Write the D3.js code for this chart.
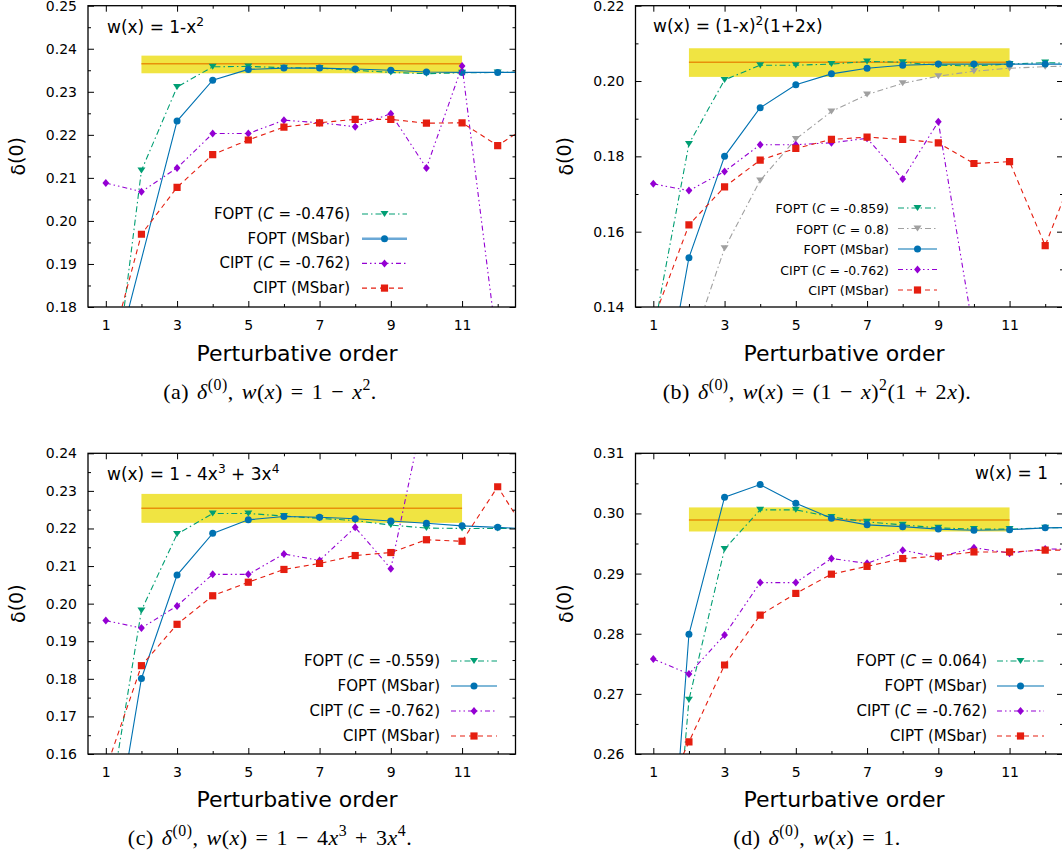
<!DOCTYPE html>
<html><head><meta charset="utf-8">
<script src="https://cdn.jsdelivr.net/npm/d3@7"></script>
<style>body{margin:0;background:#fff;} text{font-family:"DejaVu Sans",sans-serif;fill:#000;}</style>
</head><body><script>
// ---------- data ----------
const orders = [1,2,3,4,5,6,7,8,9,10,11,12,13];
const xTickLabels = [1,3,5,7,9,11];

// (a) w(x) = 1 - x^2
const aFoptC  = [0.146, 0.2117, 0.2311, 0.2358, 0.2359, 0.2356, 0.2355, 0.2350, 0.2345, 0.2342, 0.2344, 0.2345, 0.2345];
const aFoptMS = [0.159, null,   0.2232, 0.2327, 0.2352, 0.2355, 0.2355, 0.2353, 0.2350, 0.2346, 0.2345, 0.2345, 0.2345];
const aCiptC  = [0.2088, 0.2068, 0.2123, 0.2203, 0.2203, 0.2234, 0.2228, 0.2219, 0.2249, 0.2123, 0.2360, 0.170, null];
const aCiptMS = [0.166, 0.1969, 0.2078, 0.2154, 0.2188, 0.2218, 0.2228, 0.2236, 0.2236, 0.2227, 0.2228, 0.2175, 0.2229];

// (b) w(x) = (1-x)^2 (1+2x)
const bFoptC  = [0.133, 0.1833, 0.2003, 0.2042, 0.2042, 0.2045, 0.2052, 0.2050, 0.2042, 0.2040, 0.2045, 0.2049, 0.2046];
const bFoptC2 = [null, 0.1277, 0.1556, 0.1736, 0.1846, 0.1919, 0.1964, 0.1994, 0.2013, 0.2026, 0.2034, 0.2038, 0.2041];
const bFoptMS = [0.1007, 0.1531, 0.1800, 0.1929, 0.1990, 0.2019, 0.2034, 0.2042, 0.2045, 0.2045, 0.2045, 0.2045, 0.2045];
const bCiptC  = [0.1727, 0.1709, 0.1760, 0.1831, 0.1831, 0.1836, 0.1848, 0.1740, 0.1892, 0.1326, null, null, null];
const bCiptMS = [0.1365, 0.1618, 0.1719, 0.1790, 0.1821, 0.1845, 0.1851, 0.1845, 0.1836, 0.1781, 0.1786, 0.1563, 0.1805];

// (c) w(x) = 1 - 4x^3 + 3x^4
const cFoptC  = [0.1403, 0.1982, 0.2185, 0.2240, 0.2240, 0.2233, 0.2227, 0.2221, 0.2209, 0.2201, 0.2200, 0.2200, 0.2200];
const cFoptMS = [0.1235, 0.1801, 0.2076, 0.2187, 0.2223, 0.2232, 0.2230, 0.2226, 0.2220, 0.2214, 0.2207, 0.2203, 0.2198];
const cCiptC  = [0.1955, 0.1935, 0.1994, 0.2078, 0.2078, 0.2132, 0.2115, 0.2203, 0.2093, 0.2544, null, null, null];
const cCiptMS = [0.1559, 0.1835, 0.1945, 0.2021, 0.2057, 0.2091, 0.2107, 0.2128, 0.2136, 0.2170, 0.2166, 0.2311, 0.2161];

// (d) w(x) = 1
const dFoptC  = [0.200, 0.2690, 0.2941, 0.3006, 0.3006, 0.2994, 0.2986, 0.2981, 0.2976, 0.2974, 0.2974, 0.2976, 0.2977];
const dFoptMS = [0.2003, 0.2799, 0.3027, 0.3048, 0.3017, 0.2992, 0.2981, 0.2978, 0.2974, 0.2972, 0.2973, 0.2976, 0.2977];
const dCiptC  = [0.2758, 0.2733, 0.2798, 0.2885, 0.2885, 0.2925, 0.2917, 0.2939, 0.2927, 0.2943, 0.2934, 0.2941, 0.2940];
const dCiptMS = [0.249, 0.2620, 0.2748, 0.2831, 0.2867, 0.2899, 0.2912, 0.2925, 0.2929, 0.2936, 0.2936, 0.2939, 0.2939];

// reference bands (orders 2..11)
const bandRange = [2, 11];
const bandLow    = [0.2343, 0.2011, 0.2215, 0.2970];
const bandHigh   = [0.2384, 0.2087, 0.2292, 0.3010];
const bandCenter = [0.2365, 0.2050, 0.2254, 0.2989];

const cValuesA = ["-0.476", "-0.762"];
const cValuesB = ["-0.859", "0.8", "-0.762"];
const cValuesC = ["-0.559", "-0.762"];
const cValuesD = ["0.064", "-0.762"];

// ---------- styles ----------
const ST = {
  foptC:  {color:"#009e73", dash:"6,3,1.5,3", marker:"tri"},
  foptC2: {color:"#a0a0a0", dash:"6,3,1.5,3", marker:"tri"},
  foptMS: {color:"#0072b2", dash:null, marker:"circle"},
  ciptC:  {color:"#9400d3", dash:"5,3,1.5,3,1.5,3", marker:"diamond"},
  ciptMS: {color:"#e51e10", dash:"5,4", marker:"square"}
};

const W = 1062, H = 859;
const svg = d3.select("body").append("svg").attr("width", W).attr("height", H);

function rich(sel, segs, fs) {
  let shift = 0;
  segs.forEach(s => {
    const ts = sel.append("tspan").text(s.t);
    const target = s.sup ? -fs * 0.42 : 0;
    if (target !== shift) { ts.attr("dy", target - shift); shift = target; }
    if (s.sup) ts.attr("font-size", fs * 0.72);
    if (s.i) ts.attr("font-style", "italic");
  });
}

function markerPath(type) {
  if (type === "tri") return "M-4,-3L4,-3L0,3Z";
  if (type === "circle") return d3.symbol(d3.symbolCircle, Math.PI * 3.5 * 3.5)();
  if (type === "diamond") return "M0,-4L3.4,0L0,4L-3.4,0Z";
  if (type === "square") return "M-3.6,-3.6H3.6V3.6H-3.6Z";
}

const panels = [
  {key:"a", left:88, top:5.7, width:427.5, height:301.3, yDomain:[0.18,0.25], yMajor:0.01, bi:0,
   series:[["foptC",aFoptC],["foptMS",aFoptMS],["ciptC",aCiptC],["ciptMS",aCiptMS]],
   legend:[["foptC",[{t:"FOPT ("},{t:"C",i:true},{t:" = "+cValuesA[0]+")"}]],["foptMS",[{t:"FOPT (MSbar)"}]],
           ["ciptC",[{t:"CIPT ("},{t:"C",i:true},{t:" = "+cValuesA[1]+")"}]],["ciptMS",[{t:"CIPT (MSbar)"}]]],
   leg:{right:350, top:214, step:24.7, x1:362, x2:407, fs:15, thickMS:true},
   title:{x:107, y:33, anchor:"start", segs:[{t:"w(x) = 1-x"},{t:"2",sup:true}]},
   xlab:{x:297, y:361}, cap:{x:270, y:399, segs:[{t:"(a) "},{t:"δ",i:true},{t:"(0)",sup:true},{t:", "},{t:"w",i:true},{t:"("},{t:"x",i:true},{t:") = 1 − "},{t:"x",i:true},{t:"2",sup:true},{t:"."}]}},
  {key:"b", left:635.5, top:5.7, width:427.5, height:301.3, yDomain:[0.14,0.22], yMajor:0.02, bi:1,
   series:[["foptC2",bFoptC2],["foptC",bFoptC],["foptMS",bFoptMS],["ciptC",bCiptC],["ciptMS",bCiptMS]],
   legend:[["foptC",[{t:"FOPT ("},{t:"C",i:true},{t:" = "+cValuesB[0]+")"}]],["foptC2",[{t:"FOPT ("},{t:"C",i:true},{t:" = "+cValuesB[1]+")"}]],
           ["foptMS",[{t:"FOPT (MSbar)"}]],["ciptC",[{t:"CIPT ("},{t:"C",i:true},{t:" = "+cValuesB[2]+")"}]],["ciptMS",[{t:"CIPT (MSbar)"}]]],
   leg:{right:889, top:208, step:20.5, x1:898, x2:937, fs:12.5},
   title:{x:653, y:32, anchor:"start", segs:[{t:"w(x) = (1-x)"},{t:"2",sup:true},{t:"(1+2x)"}]},
   xlab:{x:844, y:361}, cap:{x:817, y:399, segs:[{t:"(b) "},{t:"δ",i:true},{t:"(0)",sup:true},{t:", "},{t:"w",i:true},{t:"("},{t:"x",i:true},{t:") = (1 − "},{t:"x",i:true},{t:")"},{t:"2",sup:true},{t:"(1 + 2"},{t:"x",i:true},{t:")."}]}},
  {key:"c", left:88, top:453.3, width:427.5, height:300.7, yDomain:[0.16,0.24], yMajor:0.01, bi:2,
   series:[["foptC",cFoptC],["foptMS",cFoptMS],["ciptC",cCiptC],["ciptMS",cCiptMS]],
   legend:[["foptC",[{t:"FOPT ("},{t:"C",i:true},{t:" = "+cValuesC[0]+")"}]],["foptMS",[{t:"FOPT (MSbar)"}]],
           ["ciptC",[{t:"CIPT ("},{t:"C",i:true},{t:" = "+cValuesC[1]+")"}]],["ciptMS",[{t:"CIPT (MSbar)"}]]],
   leg:{right:440, top:661, step:25, x1:451, x2:497, fs:15},
   title:{x:107, y:480, anchor:"start", segs:[{t:"w(x) = 1 - 4x"},{t:"3",sup:true},{t:" + 3x"},{t:"4",sup:true}]},
   xlab:{x:297, y:807}, cap:{x:270, y:845, segs:[{t:"(c) "},{t:"δ",i:true},{t:"(0)",sup:true},{t:", "},{t:"w",i:true},{t:"("},{t:"x",i:true},{t:") = 1 − 4"},{t:"x",i:true},{t:"3",sup:true},{t:" + 3"},{t:"x",i:true},{t:"4",sup:true},{t:"."}]}},
  {key:"d", left:635.5, top:453.3, width:427.5, height:300.7, yDomain:[0.26,0.31], yMajor:0.01, bi:3,
   series:[["foptC",dFoptC],["foptMS",dFoptMS],["ciptC",dCiptC],["ciptMS",dCiptMS]],
   legend:[["foptC",[{t:"FOPT ("},{t:"C",i:true},{t:" = "+cValuesD[0]+")"}]],["foptMS",[{t:"FOPT (MSbar)"}]],
           ["ciptC",[{t:"CIPT ("},{t:"C",i:true},{t:" = "+cValuesD[1]+")"}]],["ciptMS",[{t:"CIPT (MSbar)"}]]],
   leg:{right:987, top:661, step:25, x1:997, x2:1044, fs:15},
   title:{x:1048, y:479, anchor:"end", segs:[{t:"w(x) = 1"}]},
   xlab:{x:844, y:807}, cap:{x:817, y:845, segs:[{t:"(d) "},{t:"δ",i:true},{t:"(0)",sup:true},{t:", "},{t:"w",i:true},{t:"("},{t:"x",i:true},{t:") = 1."}]}}
];

panels.forEach(p => {
  const g = svg.append("g").attr("transform", `translate(${p.left},${p.top})`);
  const x = d3.scaleLinear().domain([0.5, 12.5]).range([0, p.width]);
  const y = d3.scaleLinear().domain(p.yDomain).range([p.height, 0]);
  const n = Math.round((p.yDomain[1] - p.yDomain[0]) / p.yMajor);
  const yMaj = d3.range(n + 1).map(i => +(p.yDomain[0] + i * p.yMajor).toFixed(4));
  const yMin = d3.range(n).map(i => +(p.yDomain[0] + (i + 0.5) * p.yMajor).toFixed(4));
  const xMaj = xTickLabels, xMin = [2,4,6,8,10,12];

  g.append("clipPath").attr("id", "clip" + p.key).append("rect").attr("width", p.width).attr("height", p.height);
  const plot = g.append("g").attr("clip-path", `url(#clip${p.key})`);

  // band
  plot.append("rect").attr("x", x(bandRange[0])).attr("width", x(bandRange[1]) - x(bandRange[0]))
    .attr("y", y(bandHigh[p.bi])).attr("height", y(bandLow[p.bi]) - y(bandHigh[p.bi])).attr("fill", "#f0e442");
  plot.append("line").attr("x1", x(bandRange[0])).attr("x2", x(bandRange[1]))
    .attr("y1", y(bandCenter[p.bi])).attr("y2", y(bandCenter[p.bi])).attr("stroke", "#e8900a").attr("stroke-width", 1.4);

  // series
  p.series.forEach(([k, vals]) => {
    const st = ST[k];
    const pts = orders.map((o, i) => [o, vals[i]]).filter(d => d[1] !== null);
    plot.append("path").datum(pts).attr("fill", "none").attr("stroke", st.color).attr("stroke-width", 1.1)
      .attr("stroke-dasharray", st.dash).attr("d", d3.line().x(d => x(d[0])).y(d => y(d[1])));
    plot.selectAll(null).data(pts).enter().append("path")
      .attr("transform", d => `translate(${x(d[0])},${y(d[1])})`)
      .attr("d", markerPath(st.marker)).attr("fill", st.color);
  });

  // axes
  const axStyle = a => { a.select(".domain").remove(); a.selectAll("line").attr("stroke", "#000"); a.selectAll("text").attr("font-size", 14).attr("font-family", "DejaVu Sans"); };
  g.append("g").call(d3.axisLeft(y).tickValues(yMaj).tickSize(-6).tickPadding(11).tickFormat(d3.format(".2f"))).call(axStyle);
  g.append("g").call(d3.axisLeft(y).tickValues(yMin).tickSize(-3).tickFormat("")).call(axStyle);
  g.append("g").attr("transform", `translate(${p.width},0)`).call(d3.axisRight(y).tickValues(yMaj).tickSize(-6).tickFormat("")).call(axStyle);
  g.append("g").attr("transform", `translate(${p.width},0)`).call(d3.axisRight(y).tickValues(yMin).tickSize(-3).tickFormat("")).call(axStyle);
  g.append("g").attr("transform", `translate(0,${p.height})`).call(d3.axisBottom(x).tickValues(xMaj).tickSize(-6).tickPadding(13).tickFormat(d3.format("d"))).call(axStyle);
  g.append("g").attr("transform", `translate(0,${p.height})`).call(d3.axisBottom(x).tickValues(xMin).tickSize(-3).tickFormat("")).call(axStyle);
  g.append("g").call(d3.axisTop(x).tickValues(xMaj).tickSize(-6).tickFormat("")).call(axStyle);
  g.append("g").call(d3.axisTop(x).tickValues(xMin).tickSize(-3).tickFormat("")).call(axStyle);
  g.append("rect").attr("width", p.width).attr("height", p.height).attr("fill", "none").attr("stroke", "#000").attr("stroke-width", 1.3);

  // legend
  p.legend.forEach(([k, segs], i) => {
    const st = ST[k];
    const ly = p.leg.top + i * p.leg.step;
    const t = svg.append("text").attr("x", p.leg.right).attr("y", ly).attr("text-anchor", "end")
      .attr("dominant-baseline", "central").attr("font-size", p.leg.fs);
    rich(t, segs, p.leg.fs);
    const thick = (k === "foptMS" && p.leg.thickMS);
    svg.append("line").attr("x1", p.leg.x1).attr("x2", p.leg.x2).attr("y1", ly).attr("y2", ly)
      .attr("stroke", thick ? "#6aa8d6" : st.color).attr("stroke-width", thick ? 2.6 : 1.1).attr("stroke-dasharray", st.dash);
    svg.append("path").attr("transform", `translate(${(p.leg.x1 + p.leg.x2) / 2},${ly})`)
      .attr("d", markerPath(st.marker)).attr("fill", st.color);
  });

  // title in plot
  const tt = svg.append("text").attr("x", p.title.x).attr("y", p.title.y).attr("text-anchor", p.title.anchor).attr("font-size", 17);
  rich(tt, p.title.segs, 17);

  // y axis label
  const yl = svg.append("text").attr("transform", `translate(${p.left - 70},${p.top + p.height / 2}) rotate(-90)`)
    .attr("text-anchor", "middle").attr("dominant-baseline", "central").attr("font-size", 19);
  yl.append("tspan").text("δ");
  yl.append("tspan").attr("dy", -2).text("(0)");

  // x axis label
  svg.append("text").attr("x", p.xlab.x).attr("y", p.xlab.y).attr("text-anchor", "middle").attr("font-size", 22).text("Perturbative order");

  // caption
  const cp = svg.append("text").attr("x", p.cap.x).attr("y", p.cap.y).attr("text-anchor", "middle")
    .attr("font-size", 22).attr("letter-spacing", 0.5).attr("word-spacing", 2)
    .style("font-family", "'Liberation Serif','DejaVu Serif',serif");
  rich(cp, p.cap.segs, 22);
});
</script></body></html>
